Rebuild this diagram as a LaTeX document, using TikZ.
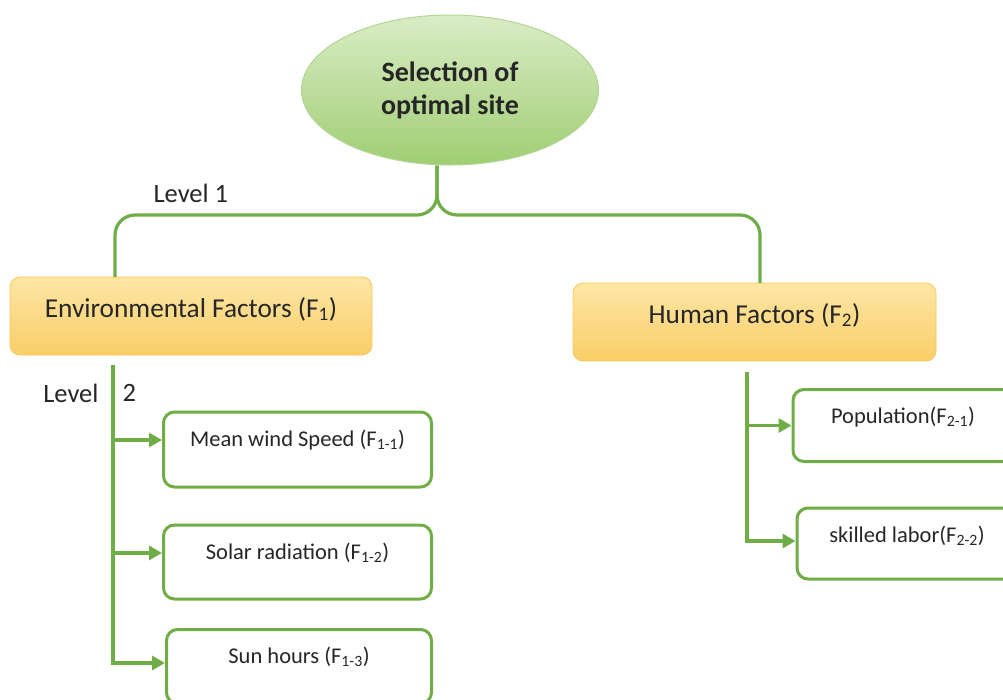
\documentclass[tikz,border=0pt]{standalone}
\usepackage{fontspec}
\setmainfont{Carlito}
\usepackage{tikz}
\usetikzlibrary{shapes.geometric}
\usetikzlibrary{calc}
\usetikzlibrary{arrows.meta}
\usepackage{xcolor}
\definecolor{lgreen}{RGB}{112,173,71}
\definecolor{etop}{RGB}{218,236,198}
\definecolor{ebot}{RGB}{160,206,115}
\definecolor{eborder}{RGB}{176,214,146}
\definecolor{otop}{RGB}{253,230,165}
\definecolor{obot}{RGB}{250,206,104}
\definecolor{oborder}{RGB}{245,200,90}
\definecolor{tdark}{RGB}{38,38,38}

\begin{document}
\begin{tikzpicture}[x=1pt, y=-1pt]
        % ================= 样式定义 =================
        \tikzset{
            % 顶部目标椭圆
            goalnode/.style={ellipse, draw=eborder, line width=1pt, top color=etop, bottom color=ebot, minimum width=297pt, minimum height=150pt, inner sep=0pt, align=center, font=\fontsize{28}{33}\selectfont\bfseries, text=tdark},
            % 第一层橙色因素框
            fnode/.style={rectangle, rounded corners=10pt, draw=oborder, line width=0.8pt, top color=otop, bottom color=obot, minimum width=362pt, inner ysep=0pt, text height=40pt, text depth=38pt, font=\fontsize{27.3}{31}\selectfont, text=tdark},
            % 第二层白底绿边子因素框
            subnode/.style={rectangle, rounded corners=11pt, draw=lgreen, line width=3pt, fill=white, minimum width=#1, inner ysep=0pt, text height=34pt, font=\fontsize{22.5}{26}\selectfont, text=tdark},
            % 绿色连线与箭头
            link/.style={draw=lgreen, line width=3.2pt},
            arr/.style={-{Triangle[length=13pt,width=14pt]}},
            lvl/.style={font=\fontsize{26.5}{31}\selectfont, text=tdark}
        }

        \useasboundingbox (0,0) rectangle (1003,699);

        % ================= 节点 =================
        \node[goalnode] (goal) at (450,90) {Selection of\\optimal site};

        \node[fnode] (env) at (191,316) {Environmental Factors (F\textsubscript{1})};
        \node[fnode, minimum width=363pt] (hum) at (754.5,322) {Human Factors (F\textsubscript{2})};

        \node[subnode=268pt, text depth=41pt] (wind) at (297.5,449.5) {Mean wind Speed (F\textsubscript{1-1})};
        \node[subnode=268pt, text depth=40pt] (solar) at (297.5,562) {Solar radiation (F\textsubscript{1-2})};
        \node[subnode=265pt, text depth=40pt] (sun) at (299,666.5) {Sun hours (F\textsubscript{1-3})};

        \node[subnode=220pt, text depth=38pt] (pop) at (903,425.5) {Population(F\textsubscript{2-1})};
        \node[subnode=220pt, text depth=37pt] (labor) at (907,543.5) {skilled labor(F\textsubscript{2-2})};

        % 层级标签
        \node[lvl, anchor=west] (lv1) at (150,193) {Level 1};
        \node[lvl, anchor=east] (lv2a) at (102,393) {Level};
        \node[lvl, anchor=west] (lv2b) at (119,393) {2};

        % ================= 第一层连线 =================
        \coordinate (stem) at ([xshift=-13pt]goal.south);
        \coordinate (fork) at (437,215);
        \coordinate (envtop) at (115,277);
        \coordinate (humtop) at (760,283);
        \draw[link, rounded corners=20pt] (stem) -- (fork) -| (envtop);
        \draw[link, rounded corners=20pt] (stem) -- (fork) -| (humtop);

        % ================= 第二层连线 =================
        \coordinate (lt) at (113,365);
        \coordinate (a1) at ([yshift=9.5pt]wind.west);
        \coordinate (a2) at ([yshift=9pt]solar.west);
        \coordinate (a3) at ([yshift=3.5pt]sun.west);
        \draw[link, arr] (lt) |- (a3);
        \draw[link, arr] (a1 -| lt) -- (a1);
        \draw[link, arr] (a2 -| lt) -- (a2);

        \coordinate (rt) at (747,372);
        \coordinate (b1) at (pop.west);
        \coordinate (b2) at ([yshift=2.5pt]labor.west);
        \draw[link, arr] (rt) |- (b2);
        \draw[link, arr] (b1 -| rt) -- (b1);

\end{tikzpicture}
\end{document}
